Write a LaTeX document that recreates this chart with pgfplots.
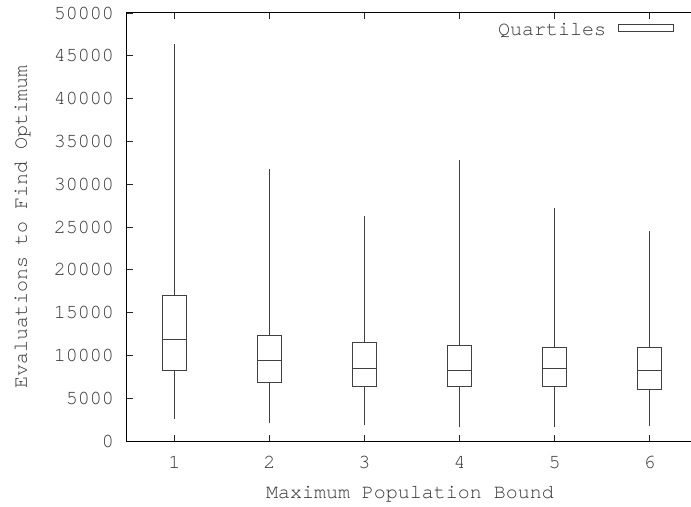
\documentclass[border=0pt]{standalone}
\usepackage{fontspec}
\usepackage{pgfplots}
\pgfplotsset{compat=1.18}
\newfontfamily\gtt{texgyrecursor-regular.otf}
\newcommand{\gfont}{\gtt\fontsize{20bp}{22bp}\selectfont}
\begin{document}
\begin{tikzpicture}
\begin{axis}[
  name=ax,
  scale only axis,
  width=566bp, height=428bp,
  xmin=0.5, xmax=6.458, ymin=0, ymax=50000,
  xtick={1,2,3,4,5,6},
  ytick={0,5000,10000,15000,20000,25000,30000,35000,40000,45000,50000},
  ytick pos=left,
  scaled y ticks=false,
  /pgf/number format/assume math mode=true,
  yticklabel style={/pgf/number format/fixed, /pgf/number format/1000 sep={}, inner sep=0pt, xshift=-13bp, text=black!80, font=\gfont},
  xticklabel style={inner sep=0pt, yshift=-15bp, text=black!80, font=\gfont},
  tick align=inside,
  major tick length=6bp,
  minor tick num=0,
  tick style={black!85, line width=0.8bp},
  axis line style={black, line width=1bp},
  xlabel={Maximum Population Bound},
  ylabel={Evaluations to Find Optimum},
  xlabel style={at={(axis description cs:0.5,0)}, anchor=base, yshift=-57bp, text=black!80, font=\gfont},
  ylabel style={at={(axis description cs:-0.1767,0.5)}, anchor=base, text=black!80, font=\gfont},
  legend plot pos=right,
  legend image code/.code={\path (0bp,0bp); \draw[black!75, line width=1bp] (10bp,-1.5bp) rectangle (65bp,5.5bp);},
  legend style={at={(axis description cs:1,1)}, anchor=north east, xshift=-19bp, yshift=-8bp,
    draw=none, fill=none, inner sep=0pt, outer sep=0pt, font=\gfont, text=black!80},
  unbounded coords=jump,
  every axis plot/.append style={black!75, line width=1bp, mark=none},
]
% each box: lower whisker, lower quartile, median, upper quartile, upper whisker
\addplot[forget plot] coordinates {(0.87,8210) (1.13,8210) (1.13,16970) (0.87,16970) (0.87,8210) (nan,nan) (0.87,11880) (1.13,11880) (nan,nan) (1,2570) (1,8210) (nan,nan) (1,16970) (1,46380)};
\addplot[forget plot] coordinates {(1.87,6890) (2.13,6890) (2.13,12380) (1.87,12380) (1.87,6890) (nan,nan) (1.87,9430) (2.13,9430) (nan,nan) (2,2070) (2,6890) (nan,nan) (2,12380) (2,31780)};
\addplot[forget plot] coordinates {(2.87,6390) (3.13,6390) (3.13,11450) (2.87,11450) (2.87,6390) (nan,nan) (2.87,8450) (3.13,8450) (nan,nan) (3,1820) (3,6390) (nan,nan) (3,11450) (3,26290)};
\addplot[forget plot] coordinates {(3.87,6310) (4.13,6310) (4.13,11210) (3.87,11210) (3.87,6310) (nan,nan) (3.87,8290) (4.13,8290) (nan,nan) (4,1600) (4,6310) (nan,nan) (4,11210) (4,32830)};
\addplot[forget plot] coordinates {(4.87,6350) (5.13,6350) (5.13,10940) (4.87,10940) (4.87,6350) (nan,nan) (4.87,8450) (5.13,8450) (nan,nan) (5,1670) (5,6350) (nan,nan) (5,10940) (5,27180)};
\addplot[forget plot] coordinates {(5.87,6040) (6.13,6040) (6.13,10980) (5.87,10980) (5.87,6040) (nan,nan) (5.87,8180) (6.13,8180) (nan,nan) (6,1790) (6,6040) (nan,nan) (6,10980) (6,24530)};
\addlegendimage{black!75}
\addlegendentry{Quartiles}
\end{axis}
\pgfresetboundingbox
\path ([xshift=-127bp, yshift=-66bp]ax.south west) rectangle ([xshift=-2bp, yshift=13bp]ax.north east);
\end{tikzpicture}
\end{document}
